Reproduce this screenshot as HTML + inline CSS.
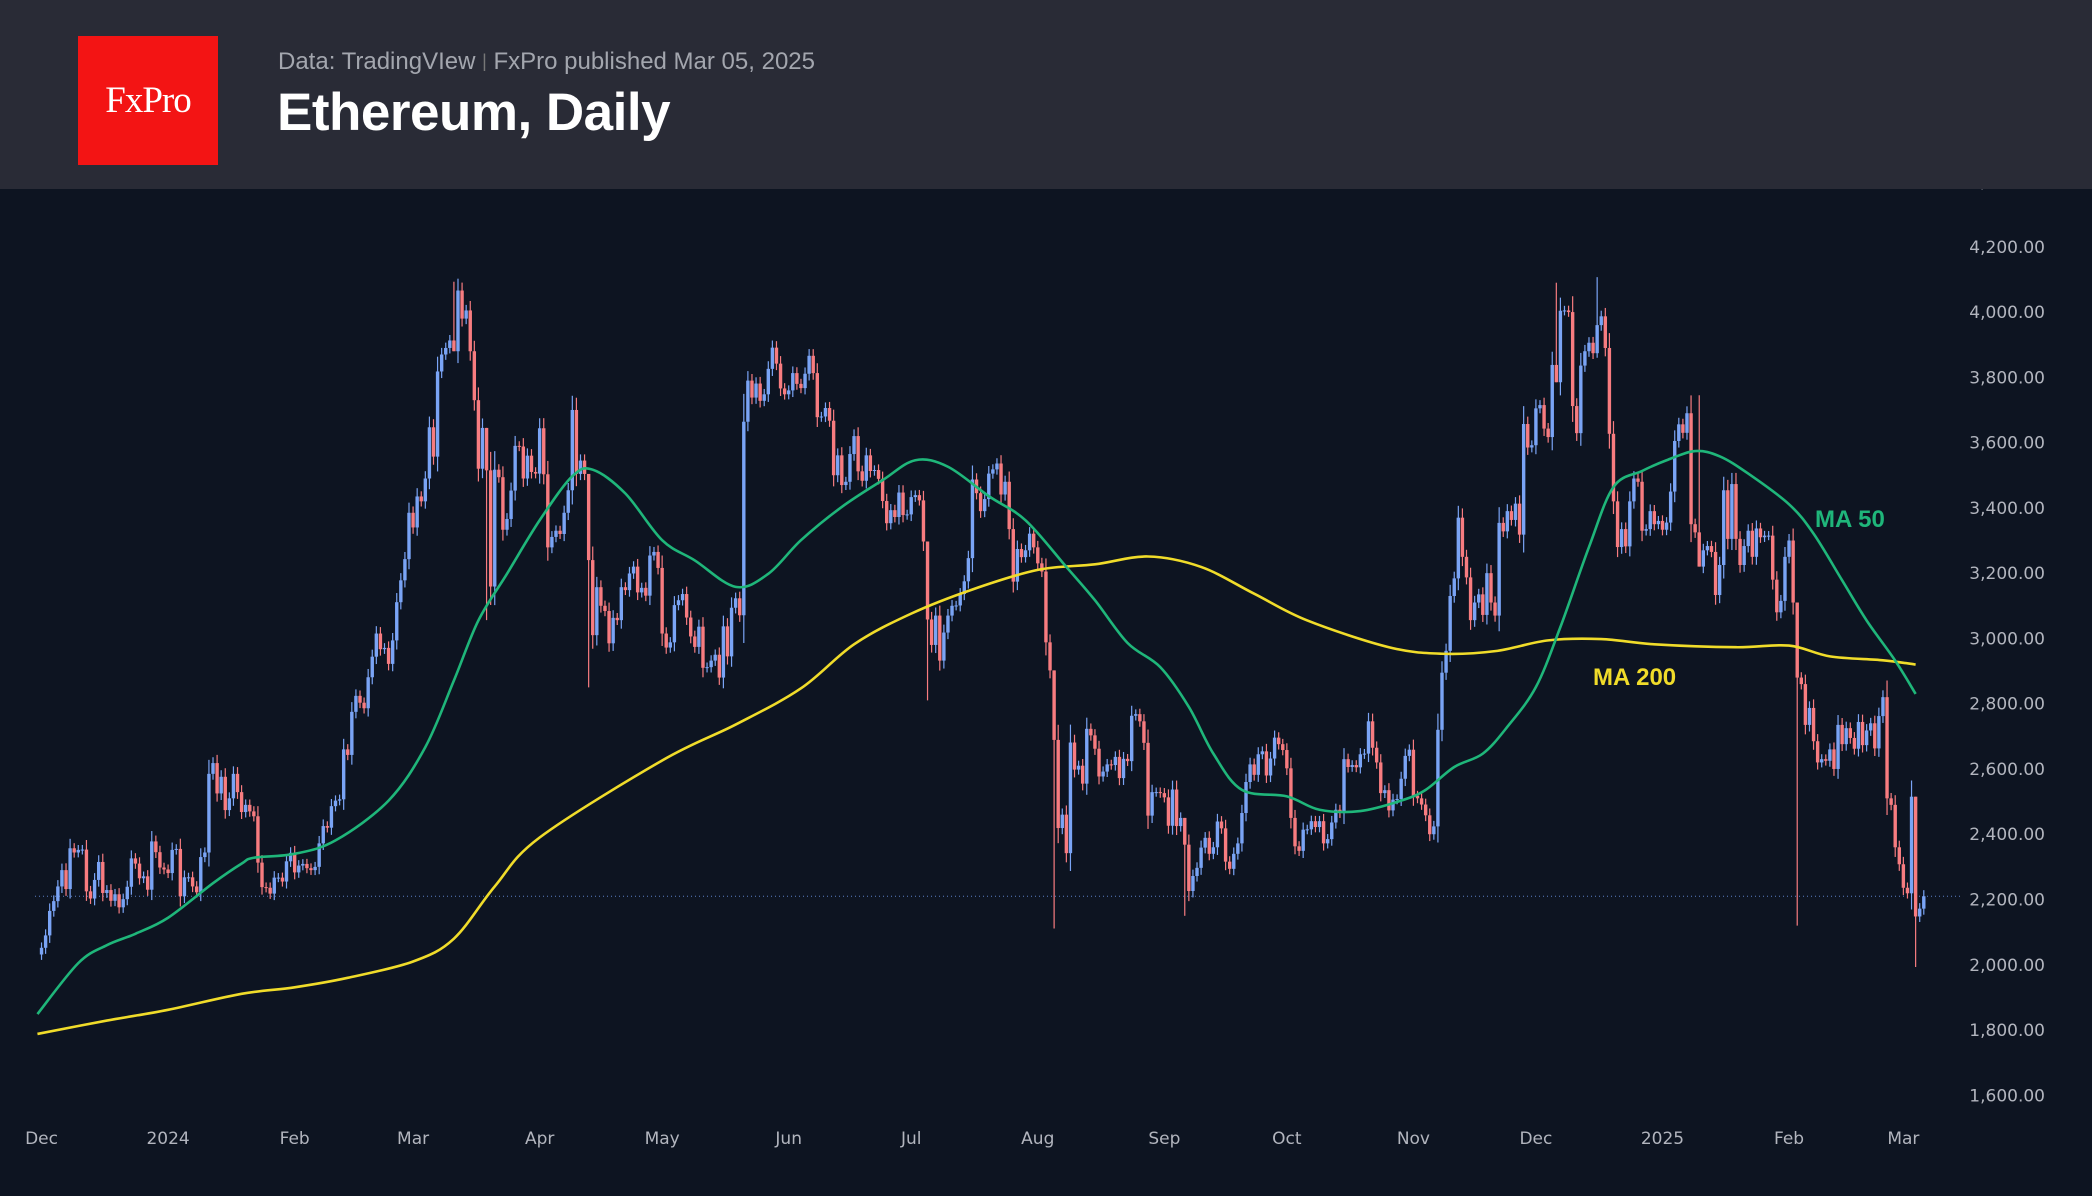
<!DOCTYPE html>
<html><head><meta charset="utf-8"><style>
html,body{margin:0;padding:0;background:#0d1421;width:2092px;height:1196px;overflow:hidden;font-family:"Liberation Sans",sans-serif}
#hdr{position:absolute;left:0;top:0;width:2092px;height:189px;background:#292b36}
#logo{position:absolute;left:78px;top:36px;width:140px;height:129px;background:#f31414;color:#fff;font-family:"Liberation Serif",serif;font-size:37px;text-align:center;line-height:129px;letter-spacing:-1px}
#src{position:absolute;left:278px;top:48px;font-size:24px;color:#a3a6ae}
#ttl{position:absolute;left:277px;top:82px;font-size:53px;color:#fff;font-weight:bold;letter-spacing:-0.5px}
svg{position:absolute;left:0;top:0}
</style></head><body>
<svg id="chart" width="2092" height="1196"></svg>
<div id="hdr">
<div id="logo">FxPro</div>
<div id="src">Data: TradingVIew <span style="color:#777;font-size:18px;vertical-align:2px">|</span> FxPro published Mar 05, 2025</div>
<div id="ttl">Ethereum, Daily</div>
</div>
<script>
const startDay=-31;
const closes=[2052,
2090,2165,2195,2240,2290,2232,2357,2344,2352,2353,2225,2203,2260,2315,2220,2229,2196,2216,2176,2201,2239,2326,2310,2265,2271,2230,2378,2345,2298,2292,2281,
2352,2355,2210,2268,2268,2240,2222,2330,2344,2585,2618,2525,2576,2474,2510,2585,2529,2468,2490,2470,2455,2313,2238,2236,2218,2267,2267,2255,2317,2343,2283,
2304,2309,2296,2290,2300,2372,2425,2420,2486,2503,2507,2660,2643,2775,2824,2803,2786,2881,2944,3015,2967,2971,2922,2994,3111,3178,3243,3385,3340,
3435,3420,3490,3647,3557,3818,3870,3890,3913,3880,4066,3980,4005,3880,3730,3520,3645,3515,3159,3517,3494,3333,3366,3453,3590,3588,3490,3560,3510,3505,3644,
3503,3279,3311,3330,3320,3385,3454,3700,3504,3545,3504,3240,3010,3157,3100,3084,2985,3063,3056,3157,3148,3199,3220,3141,3155,3131,3254,3265,3216,3015,
2972,2988,3102,3117,3136,3064,3006,2974,3036,2910,2912,2932,2950,2880,3037,2945,3094,3123,3071,3664,3790,3738,3781,3728,3748,3826,3891,3842,3766,3748,3760,
3813,3780,3767,3811,3866,3813,3678,3680,3706,3667,3500,3561,3470,3480,3565,3620,3512,3483,3561,3513,3516,3489,3421,3353,3393,3372,3447,3378,3380,3433,
3439,3423,3297,3058,2980,3070,2932,3018,3070,3100,3101,3136,3175,3246,3487,3445,3390,3427,3505,3518,3536,3441,3480,3335,3174,3274,3249,3270,3321,3279,3230,
3205,2988,2902,2689,2419,2460,2342,2681,2598,2610,2555,2723,2703,2662,2577,2592,2614,2612,2637,2572,2631,2624,2763,2768,2746,2680,2457,2529,2529,2526,2513,
2426,2537,2425,2450,2368,2226,2272,2297,2359,2389,2340,2360,2439,2418,2316,2294,2340,2372,2465,2560,2614,2582,2645,2654,2580,2632,2696,2676,2658,2602,
2450,2363,2349,2414,2415,2440,2422,2440,2372,2385,2436,2475,2465,2630,2606,2612,2605,2645,2647,2746,2665,2620,2526,2535,2473,2506,2508,2570,2640,2659,2518,
2510,2491,2458,2400,2424,2720,2895,2962,3130,3184,3370,3250,3187,3056,3110,3135,3072,3200,3110,3070,3354,3328,3390,3363,3413,3318,3657,3585,3592,3705,
3715,3643,3617,3838,3785,4004,4005,4000,3712,3629,3836,3880,3906,3874,3960,3987,3890,3627,3420,3280,3335,3282,3420,3490,3480,3330,3335,3390,3350,3360,3333,
3355,3450,3605,3656,3630,3690,3350,3325,3220,3270,3283,3265,3133,3225,3454,3305,3473,3305,3225,3283,3330,3250,3337,3310,3315,3315,3180,3080,3115,3250,3300,
3110,2880,2860,2735,2787,2685,2620,2630,2625,2660,2600,2735,2676,2725,2695,2662,2744,2673,2718,2740,2663,2762,2820,2510,2490,2360,2308,2236,
2219,2515,2148,2172,2210];
const spikeDays=[70,78,103,186,217,249,350,399,428,375,340];
const spikeHigh=[4093,3600,3280,3110,2530,2320,4107,3060,2230,3745,4090];
const spikeLow=[3900,3056,2850,2810,2111,2150,3860,2120,1993,3590,3900];
const ma50Days=[-32,-22,-15,-8,0,11,18,21,31,41,54,63,70,76,83,91,99,104,112,121,129,139,147,155,165,175,183,191,201,210,220,227,235,243,250,256,263,274,282,292,302,308,315,322,328,335,341,348,354,361,367,374,380,387,397,403,410,416,423,428];
const ma50Vals=[1849,2005,2060,2095,2144,2250,2310,2328,2340,2381,2503,2667,2871,3055,3198,3362,3497,3517,3444,3301,3239,3158,3198,3301,3403,3485,3546,3526,3436,3362,3219,3117,2986,2912,2790,2647,2536,2516,2475,2471,2503,2536,2606,2647,2729,2851,3035,3280,3464,3513,3546,3574,3558,3505,3411,3321,3178,3055,2932,2830];
const ma200Days=[-32,-15,0,18,31,44,60,70,80,91,121,139,155,168,182,197,213,227,240,253,266,279,299,312,325,338,351,364,384,397,407,420,428];
const ma200Vals=[1788,1829,1862,1911,1931,1960,2010,2080,2240,2390,2626,2736,2847,2982,3076,3150,3210,3227,3251,3219,3137,3055,2973,2953,2961,2994,2998,2982,2973,2978,2945,2933,2920];
const priceTicks=[4400,4200,4000,3800,3600,3400,3200,3000,2800,2600,2400,2200,2000,1800,1600];
const monthLabels=["Dec","2024","Feb","Mar","Apr","May","Jun","Jul","Aug","Sep","Oct","Nov","Dec","2025","Feb","Mar"];
const monthDays=[-31,0,31,60,91,121,152,182,213,244,274,305,335,366,397,425];
const lastPrice=2210;

const X=d=>168.1+d*4.083;
const Y=p=>246.8+(4200-p)*0.32635;
const NS="http://www.w3.org/2000/svg";
const svg=document.getElementById('chart');
function mk(tag,attrs,parent){const e=document.createElementNS(NS,tag);for(const k in attrs)e.setAttribute(k,attrs[k]);(parent||svg).appendChild(e);return e;}
const fmt=v=>v.toLocaleString('en-US',{minimumFractionDigits:2,maximumFractionDigits:2});

priceTicks.forEach(p=>{const t=mk('text',{x:2045,y:Y(p)+6,fill:'#b2b5be','font-size':17,'text-anchor':'end','font-family':'DejaVu Sans, sans-serif'});t.textContent=fmt(p);

});
monthLabels.forEach((m,i)=>{const t=mk('text',{x:X(monthDays[i]),y:1144,fill:'#b2b5be','font-size':17,'text-anchor':'middle','font-family':'DejaVu Sans, sans-serif'});t.textContent=m;

});

const pl=mk('line',{x1:35,x2:1962,y1:Y(lastPrice),y2:Y(lastPrice),stroke:'#5b7fc4','stroke-width':1,'stroke-dasharray':'1 3'});



const cg=mk('g',{});


for(let i=0;i<closes.length;i++){
  const d=startDay+i, c=closes[i], o=i>0?closes[i-1]:closes[0]*0.99;
  const up=c>=o, col=up?'#7aa4f5':'#f77c80';
  const top=Math.max(o,c), bot=Math.min(o,c), body=top-bot;
  let hi=top+body*0.12+14, lo=bot-body*0.12-14;
  const k=spikeDays.indexOf(d);
  if(k>=0){hi=Math.max(top,spikeHigh[k]);lo=Math.min(bot,spikeLow[k]);}
  const x=X(d);
  const w=mk('line',{x1:x,x2:x,y1:Y(hi),y2:Y(lo),stroke:col,'stroke-width':1.2},cg);
  
  
  const r=mk('rect',{x:x-1.7,y:Y(top),width:3.4,height:Math.max(1,Y(bot)-Y(top)),fill:col},cg);
  
  
}
function line(days,vals,col,name){
  const pts=days.map((d,i)=>[X(d),Y(vals[i])]);
  let dstr='M'+pts[0][0]+','+pts[0][1];
  for(let i=0;i<pts.length-1;i++){
    const p0=pts[Math.max(0,i-1)],p1=pts[i],p2=pts[i+1],p3=pts[Math.min(pts.length-1,i+2)];
    const c1=[p1[0]+(p2[0]-p0[0])/6,p1[1]+(p2[1]-p0[1])/6];
    const c2=[p2[0]-(p3[0]-p1[0])/6,p2[1]-(p3[1]-p1[1])/6];
    dstr+=' C'+c1+' '+c2+' '+p2;
  }
  const p=mk('path',{d:dstr,fill:'none',stroke:col,'stroke-width':2.6,'stroke-linejoin':'round'});
  
  
}
line(ma200Days,ma200Vals,'#f0dc2a','ma200-line');
line(ma50Days,ma50Vals,'#1fb67a','ma50-line');
const l1=mk('text',{x:1815,y:527,fill:'#1fb67a','font-size':24,'font-weight':'bold'});l1.textContent='MA 50';


const l2=mk('text',{x:1593,y:685,fill:'#f0dc2a','font-size':24,'font-weight':'bold'});l2.textContent='MA 200';


</script>
</body></html>
